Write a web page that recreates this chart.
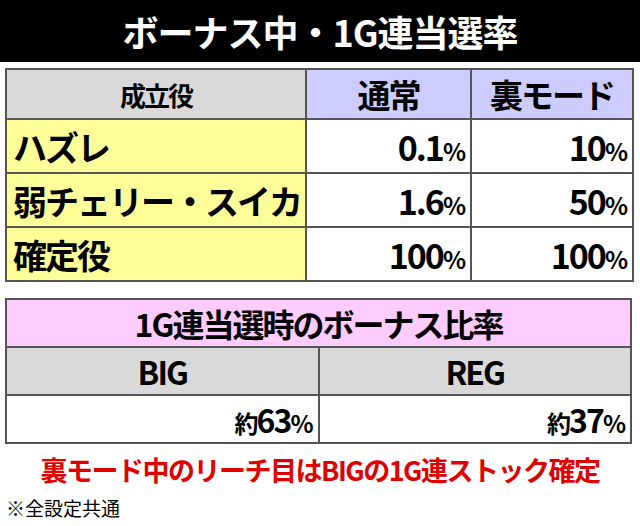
<!DOCTYPE html>
<html><head><meta charset="utf-8">
<script src="https://cdn.jsdelivr.net/npm/chart.js@4"></script>
<style>
body{margin:0;width:640px;height:526px;background:#fff;font-family:"Noto Sans CJK JP",sans-serif;font-weight:700;overflow:hidden;position:relative}
#title{position:absolute;left:0;top:0;width:640px;height:62px;background:#000;color:#fff;font-size:36px;text-align:center;line-height:62px;letter-spacing:-1px}
table{position:absolute;border-collapse:collapse;left:5px;width:627px;table-layout:fixed}
td{border:2px solid #555;padding:0 6px;white-space:nowrap;letter-spacing:-2px;overflow:hidden}
#t1{top:68px}
#t1 td{height:52px;font-size:34px}
#t1 tr:first-child td{height:48px;font-size:33px;text-align:center}
#t2{top:298px}
#t2 td{height:44px;font-size:32px;text-align:center}
.pct{font-size:24px}
#note1{position:absolute;left:0;width:640px;top:450px;text-align:center;color:#e00000;font-size:27px;letter-spacing:-1.5px}
#note2{position:absolute;left:6px;top:494px;font-size:19px;font-weight:400}
</style></head><body>
<div id="title">ボーナス中・1G連当選率</div>
<table id="t1"><colgroup><col style="width:300px"><col style="width:165px"><col style="width:162px"></colgroup><tbody id="b1"></tbody></table>
<table id="t2"></table>
<div id="note1">裏モード中のリーチ目はBIGの1G連ストック確定</div>
<div id="note2">※全設定共通</div>
<script>
const headers = ['成立役', '通常', '裏モード'];
const roles = ['ハズレ', '弱チェリー・スイカ', '確定役'];
const normalRates = ['0.1', '1.6', '100'];
const uraRates = ['10', '50', '100'];
const ratioTitle = '1G連当選時のボーナス比率';
const bonusTypes = ['BIG', 'REG'];
const bonusRatios = [63, 37];

let html = '<tr>' + headers.map((h, i) =>
  `<td style="background:${i ? '#ccccff' : '#d9d9d9'};${i ? '' : 'font-size:26px'}">${h}</td>`).join('') + '</tr>';
roles.forEach((r, i) => {
  html += `<tr><td style="background:#ffff99">${r}</td>` +
    `<td style="text-align:right">${normalRates[i]}<span class="pct">%</span></td>` +
    `<td style="text-align:right">${uraRates[i]}<span class="pct">%</span></td></tr>`;
});
document.getElementById('b1').innerHTML = html;

const t2 = document.getElementById('t2');
t2.innerHTML = `<tr><td colspan="2" style="background:#ffccff">${ratioTitle}</td></tr>` +
  '<tr>' + bonusTypes.map(b => `<td style="background:#d9d9d9;width:50%">${b}</td>`).join('') + '</tr>' +
  '<tr>' + bonusRatios.map(v => `<td style="text-align:right;height:46px"><span class="pct">約</span>${v}<span class="pct">%</span></td>`).join('') + '</tr>';
</script>
</body></html>
